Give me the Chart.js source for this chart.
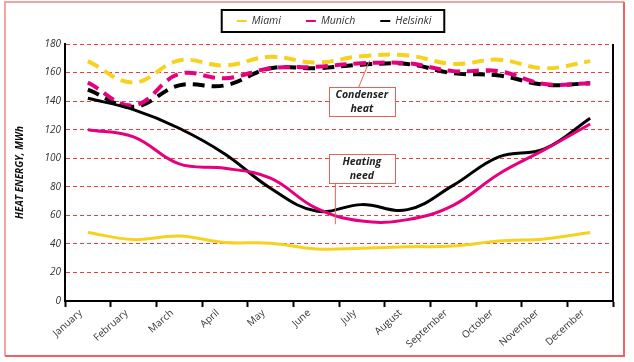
<!DOCTYPE html>
<html>
<head>
<meta charset="utf-8">
<script src="https://cdn.jsdelivr.net/npm/chart.js@4.4.1/dist/chart.umd.min.js"></script>
<style>
  html, body { margin: 0; padding: 0; background: #fff; }
  #wrap { width: 634px; height: 362px; }
</style>
</head>
<body>
<div id="wrap"><canvas id="chart" width="634" height="362"></canvas></div>
<script>
const months = ["January", "February", "March", "April", "May", "June",
  "July", "August", "September", "October", "November", "December"];
const yTicks = [0, 20, 40, 60, 80, 100, 120, 140, 160, 180];

// heating need (solid lines)
const miamiNeed = [48, 43, 45.5, 41, 40.5, 36.5, 37, 38, 38.5, 42, 43.5, 48];
const munichNeed = [120, 115, 96, 93, 86, 65, 56, 57, 67, 89, 106, 124];
const helsinkiNeed = [142, 134, 121, 103, 79, 63, 67.5, 64, 81, 101, 106.5, 128];

// condenser heat (dashed lines)
const miamiHeat = [168, 153, 168.5, 165, 171, 167, 171.5, 172, 166, 169, 163, 168];
const munichHeat = [153, 137, 159, 156, 163, 164, 166.5, 166.5, 161, 161, 152, 152.5];
const helsinkiHeat = [148, 136, 151, 151, 163, 163, 165.5, 166, 159.5, 158, 151.5, 152.5];

const cities = ["Miami", "Munich", "Helsinki"];
const cityColors = ["#f6d21e", "#e6007e", "#000000"];

// text boxes: centre in data units, leader line from/to in data units
const notes = [
  { lines: ["Condenser", "heat"], at: [6, 139.5], from: [5.93, 149.6], to: [6.17, 168.5] },
  { lines: ["Heating", "need"], at: [6, 92.6], from: [5.42, 82.5], to: [5.42, 53.8] }
];

const needSets = [miamiNeed, munichNeed, helsinkiNeed].map((d, i) => ({
  label: cities[i], data: d, borderColor: cityColors[i], borderWidth: 3,
  tension: 0.4, pointRadius: 0, fill: false, inLegend: true
}));
const heatSets = [miamiHeat, munichHeat, helsinkiHeat].map((d, i) => ({
  label: cities[i] + " condenser", data: d, borderColor: cityColors[i], borderWidth: 4,
  borderDash: [12, 7], tension: 0.4, pointRadius: 0, fill: false, inLegend: false
}));

const decor = {
  id: "decor",
  beforeDraw(chart) {
    const ctx = chart.ctx;
    ctx.save();
    ctx.fillStyle = "#fff";
    ctx.fillRect(0, 0, chart.width, chart.height);
    ctx.restore();
  },
  afterDraw(chart) {
    const { ctx, chartArea: a, scales: { x, y } } = chart;
    ctx.save();

    // right edge of the plot
    ctx.strokeStyle = "#000";
    ctx.lineWidth = 2;
    ctx.beginPath();
    ctx.moveTo(a.right, a.top);
    ctx.lineTo(a.right, a.bottom);
    ctx.stroke();

    // text boxes with leader lines
    notes.forEach(n => {
      ctx.strokeStyle = "#e8605a";
      ctx.lineWidth = 1;
      ctx.beginPath();
      ctx.moveTo(x.getPixelForValue(n.from[0]), y.getPixelForValue(n.from[1]));
      ctx.lineTo(x.getPixelForValue(n.to[0]), y.getPixelForValue(n.to[1]));
      ctx.stroke();
      const cx = x.getPixelForValue(n.at[0]), cy = y.getPixelForValue(n.at[1]);
      const w = 66, h = 29;
      ctx.fillStyle = "#fff";
      ctx.fillRect(cx - w / 2, cy - h / 2, w, h);
      ctx.strokeRect(Math.round(cx - w / 2) + 0.5, Math.round(cy - h / 2) + 0.5, w, h);
      ctx.fillStyle = "#222";
      ctx.font = "italic bold 10.5px 'Open Sans'";
      ctx.textAlign = "center";
      ctx.textBaseline = "middle";
      ctx.fillText(n.lines[0], cx, cy - 6.5);
      ctx.fillText(n.lines[1], cx, cy + 7);
    });

    // legend box
    const items = chart.data.datasets.filter(d => d.inLegend);
    ctx.font = "italic 10.5px 'Open Sans'";
    const widths = items.map(d => ctx.measureText(d.label).width);
    const lw = 15 + widths.reduce((s, t) => s + 10 + 5 + t, 0) + 25 * (items.length - 1) + 13;
    const lx = (a.left + a.right) / 2 - lw / 2 - 6, ly = 10, lh = 22;
    ctx.strokeStyle = "#000";
    ctx.lineWidth = 2;
    ctx.strokeRect(lx, ly, lw, lh);
    let px = lx + 15;
    items.forEach((d, i) => {
      ctx.strokeStyle = d.borderColor;
      ctx.lineWidth = 2;
      ctx.beginPath();
      ctx.moveTo(px, ly + lh / 2);
      ctx.lineTo(px + 10, ly + lh / 2);
      ctx.stroke();
      ctx.fillStyle = "#333";
      ctx.textAlign = "left";
      ctx.textBaseline = "middle";
      ctx.fillText(d.label, px + 15, ly + lh / 2);
      px += 15 + widths[i] + 25;
    });

    // outer frame
    ctx.lineWidth = 2;
    ctx.strokeStyle = "#f4a4a4";
    ctx.beginPath();
    ctx.moveTo(5, 356);
    ctx.lineTo(5, 2);
    ctx.lineTo(624, 2);
    ctx.stroke();
    ctx.strokeStyle = "#ee6262";
    ctx.beginPath();
    ctx.moveTo(624, 2);
    ctx.lineTo(624, 356);
    ctx.lineTo(5, 356);
    ctx.stroke();
    ctx.restore();
  }
};

new Chart(document.getElementById("chart"), {
  type: "line",
  data: { labels: months, datasets: [...needSets, ...heatSets] },
  options: {
    responsive: false,
    animation: false,
    layout: { padding: { left: 10, right: 21, top: 44, bottom: 11 } },
    plugins: { legend: { display: false }, tooltip: { enabled: false } },
    scales: {
      x: {
        offset: true,
        grid: { offset: true, drawOnChartArea: false, drawTicks: true, tickLength: 6, tickColor: "#000", tickWidth: 2 },
        border: { color: "#000", width: 2 },
        ticks: { maxRotation: 42, minRotation: 42, labelOffset: -7, padding: 0, color: "#333", font: { family: "'Open Sans'", size: 10 } },
        afterFit: s => { s.height = 50; }
      },
      y: {
        min: yTicks[0], max: yTicks[yTicks.length - 1],
        afterBuildTicks: s => { s.ticks = yTicks.map(v => ({ value: v })); },
        grid: { color: c => c.tick && c.tick.value === 0 ? "rgba(0,0,0,0)" : "#ee3b3b", lineWidth: 1, drawTicks: false },
        border: { color: "#000", width: 2, dash: [4, 3] },
        ticks: { padding: 4, color: "#333", font: { family: "'Open Sans'", size: 10, style: "italic" } },
        title: { display: true, text: "HEAT ENERGY, MWh", color: "#111", padding: { top: 4, bottom: 4 },
          font: { family: "'Open Sans'", size: 10, style: "italic", weight: "bold" } },
        afterFit: s => { s.width = 55; }
      }
    }
  },
  plugins: [decor]
});
</script>
</body>
</html>
